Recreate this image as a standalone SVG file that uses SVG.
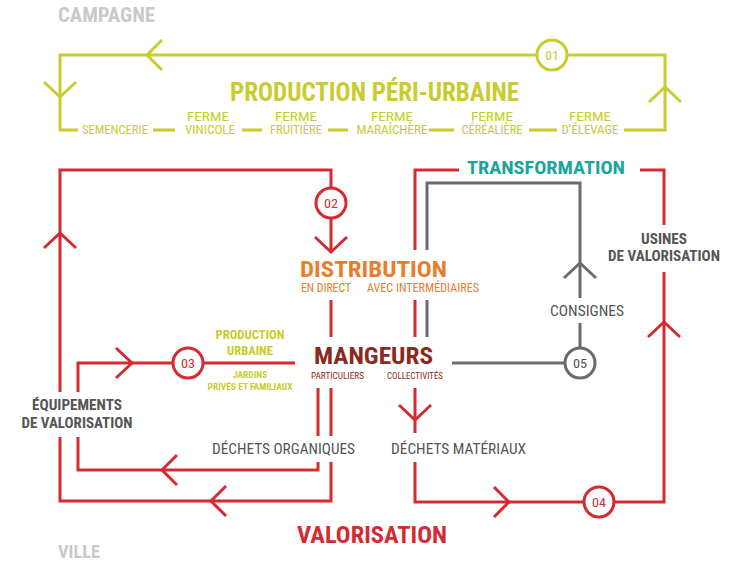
<svg xmlns="http://www.w3.org/2000/svg" width="734" height="564" viewBox="0 0 734 564">
<style>
text{font-family:"Roboto Condensed","Liberation Sans Narrow","DejaVu Sans Condensed","Liberation Sans",sans-serif}
.b{font-weight:bold}
.r{fill:none;stroke:#d42a31;stroke-width:3}
.g{fill:none;stroke:#6b6b6b;stroke-width:3}
.y{fill:none;stroke:#c8cc2e;stroke-width:3}
.cr{fill:#fff;stroke:#d42a31;stroke-width:3}
.cg{fill:#fff;stroke:#6b6b6b;stroke-width:3}
.cy{fill:#fff;stroke:#c8cc2e;stroke-width:3}
.ty{fill:#c8cc2e}
.tr{fill:#d42a31}
.tg{fill:#555555}
.tl{fill:#c9c9cd}
.to{fill:#ea7d2c}
.tb{fill:#8b2a1c}
.tt{fill:#1ba59b}
.n{font-size:13px;text-anchor:middle}
.s{font-size:12px;text-anchor:middle}
</style>
<g id="connectors">
  <path class="y" d="M78,130 H60 V55 H537 M567,55 H665 V130 H624"/>
  <path class="y" d="M153,130 H175 M242,130 H262 M328,130 H348 M429,130 H454 M529,130 H557"/>
  <polyline class="y" points="162,40 147,55 162,70"/>
  <polyline class="y" points="44,82 60,97 76,82"/>
  <polyline class="y" points="649,102 665,87 681,102"/>
  <path class="r" d="M60,392 V170 H331 V188 M331,218 V252"/>
  <polyline class="r" points="44,248 60,233 76,248"/>
  <polyline class="r" points="315,237 331,252 347,237"/>
  <path class="r" d="M331,300 V337 M415,300 V337"/>
  <path class="r" d="M318,388 V436 M331,388 V436"/>
  <path class="r" d="M60,437 V501 H331 V462"/>
  <polyline class="r" points="226,486 211,501 226,516"/>
  <path class="r" d="M78,437 V470 H318 V462"/>
  <polyline class="r" points="177,455 162,470 177,485"/>
  <path class="r" d="M78,392 V363 H173 M203,363 H295"/>
  <polyline class="r" points="116,348 132,363 116,378"/>
  <path class="r" d="M415,250 V170 H459 M640,170 H664 V225 M664,272 V502 H614 M584,502 H415 V462"/>
  <polyline class="r" points="648,337 664,322 680,337"/>
  <polyline class="r" points="494,487 509,502 494,517"/>
  <path class="r" d="M415,388 V433"/>
  <polyline class="r" points="399,405 415,420 431,405"/>
  <path class="g" d="M427,250 V183 H580 V298 M580,323 V348"/>
  <polyline class="g" points="564,278 580,263 596,278"/>
  <path class="g" d="M427,300 V337 M452,363 H565"/>
</g>
<g id="n01">
  <circle class="cy" cx="552" cy="55" r="15"/>
  <text class="n ty" x="552" y="59.5" textLength="14" lengthAdjust="spacingAndGlyphs">01</text>
</g>
<g id="n02">
  <circle class="cr" cx="331" cy="203" r="15"/>
  <text class="n tr" x="331" y="207.5" textLength="14" lengthAdjust="spacingAndGlyphs">02</text>
</g>
<g id="n03">
  <circle class="cr" cx="188" cy="363" r="15"/>
  <text class="n tr" x="188" y="367.5" textLength="14" lengthAdjust="spacingAndGlyphs">03</text>
</g>
<g id="n04">
  <circle class="cr" cx="599" cy="502" r="15"/>
  <text class="n tr" x="599" y="506.5" textLength="14" lengthAdjust="spacingAndGlyphs">04</text>
</g>
<g id="n05">
  <circle class="cg" cx="580" cy="363" r="15"/>
  <text class="n tg" x="580" y="367.5" textLength="14" lengthAdjust="spacingAndGlyphs">05</text>
</g>
<g id="campagne">
  <text class="b tl" x="58" y="22" font-size="20" textLength="97" lengthAdjust="spacingAndGlyphs">CAMPAGNE</text>
</g>
<g id="ville">
  <text class="b tl" x="58" y="558" font-size="18" textLength="42" lengthAdjust="spacingAndGlyphs">VILLE</text>
</g>
<g id="production-periurbaine">
  <text class="b ty" x="230" y="101" font-size="25" textLength="289" lengthAdjust="spacingAndGlyphs">PRODUCTION PÉRI-URBAINE</text>
  <text class="s ty" x="115" y="134" textLength="66" lengthAdjust="spacingAndGlyphs">SEMENCERIE</text>
  <text class="s ty" x="208" y="121" textLength="42" lengthAdjust="spacingAndGlyphs">FERME</text>
  <text class="s ty" x="210" y="134" textLength="50" lengthAdjust="spacingAndGlyphs">VINICOLE</text>
  <text class="s ty" x="296" y="121" textLength="42" lengthAdjust="spacingAndGlyphs">FERME</text>
  <text class="s ty" x="296" y="134" textLength="52" lengthAdjust="spacingAndGlyphs">FRUITIÈRE</text>
  <text class="s ty" x="392" y="121" textLength="42" lengthAdjust="spacingAndGlyphs">FERME</text>
  <text class="s ty" x="392" y="134" textLength="71" lengthAdjust="spacingAndGlyphs">MARAÎCHÈRE</text>
  <text class="s ty" x="492" y="121" textLength="42" lengthAdjust="spacingAndGlyphs">FERME</text>
  <text class="s ty" x="492" y="134" textLength="61" lengthAdjust="spacingAndGlyphs">CÉRÉALIÈRE</text>
  <text class="s ty" x="590" y="121" textLength="42" lengthAdjust="spacingAndGlyphs">FERME</text>
  <text class="s ty" x="590" y="134" textLength="57" lengthAdjust="spacingAndGlyphs">D’ÉLEVAGE</text>
</g>
<g id="distribution">
  <text class="b to" x="300" y="277" font-size="22" textLength="147" lengthAdjust="spacingAndGlyphs">DISTRIBUTION</text>
  <text class="to" x="301" y="292" font-size="12" textLength="50" lengthAdjust="spacingAndGlyphs">EN DIRECT</text>
  <text class="to" x="367" y="292" font-size="12" textLength="112" lengthAdjust="spacingAndGlyphs">AVEC INTERMÉDIAIRES</text>
</g>
<g id="mangeurs">
  <text class="b tb" x="314" y="364" font-size="23" textLength="119" lengthAdjust="spacingAndGlyphs">MANGEURS</text>
  <text class="tb" x="311" y="379" font-size="9.5" textLength="53" lengthAdjust="spacingAndGlyphs">PARTICULIERS</text>
  <text class="tb" x="387" y="379" font-size="9.5" textLength="56" lengthAdjust="spacingAndGlyphs">COLLECTIVITÉS</text>
</g>
<g id="transformation">
  <text class="b tt" x="467" y="174" font-size="19" textLength="158" lengthAdjust="spacingAndGlyphs">TRANSFORMATION</text>
</g>
<g id="usines">
  <text class="b tg" x="664" y="244" font-size="15" text-anchor="middle" textLength="46" lengthAdjust="spacingAndGlyphs">USINES</text>
  <text class="b tg" x="664" y="261" font-size="15" text-anchor="middle" textLength="112" lengthAdjust="spacingAndGlyphs">DE VALORISATION</text>
</g>
<g id="consignes">
  <text class="tg" x="550" y="316" font-size="14" textLength="74" lengthAdjust="spacingAndGlyphs">CONSIGNES</text>
</g>
<g id="production-urbaine">
  <text class="b ty" x="250" y="339" font-size="12" text-anchor="middle" textLength="69" lengthAdjust="spacingAndGlyphs">PRODUCTION</text>
  <text class="b ty" x="250" y="355" font-size="12" text-anchor="middle" textLength="46" lengthAdjust="spacingAndGlyphs">URBAINE</text>
  <text class="b ty" x="250" y="378" font-size="9.5" text-anchor="middle" textLength="34" lengthAdjust="spacingAndGlyphs">JARDINS</text>
  <text class="b ty" x="250" y="390" font-size="9.5" text-anchor="middle" textLength="85" lengthAdjust="spacingAndGlyphs">PRIVÉS ET FAMILIAUX</text>
</g>
<g id="equipements">
  <text class="b tg" x="77" y="410" font-size="15" text-anchor="middle" textLength="90" lengthAdjust="spacingAndGlyphs">ÉQUIPEMENTS</text>
  <text class="b tg" x="77" y="428" font-size="15" text-anchor="middle" textLength="111" lengthAdjust="spacingAndGlyphs">DE VALORISATION</text>
</g>
<g id="dechets-organiques">
  <text class="tg" x="212" y="454" font-size="14" textLength="143" lengthAdjust="spacingAndGlyphs">DÉCHETS ORGANIQUES</text>
</g>
<g id="dechets-materiaux">
  <text class="tg" x="391" y="454" font-size="14" textLength="135" lengthAdjust="spacingAndGlyphs">DÉCHETS MATÉRIAUX</text>
</g>
<g id="valorisation">
  <text class="b tr" x="297" y="543" font-size="23" textLength="150" lengthAdjust="spacingAndGlyphs">VALORISATION</text>
</g>
</svg>
